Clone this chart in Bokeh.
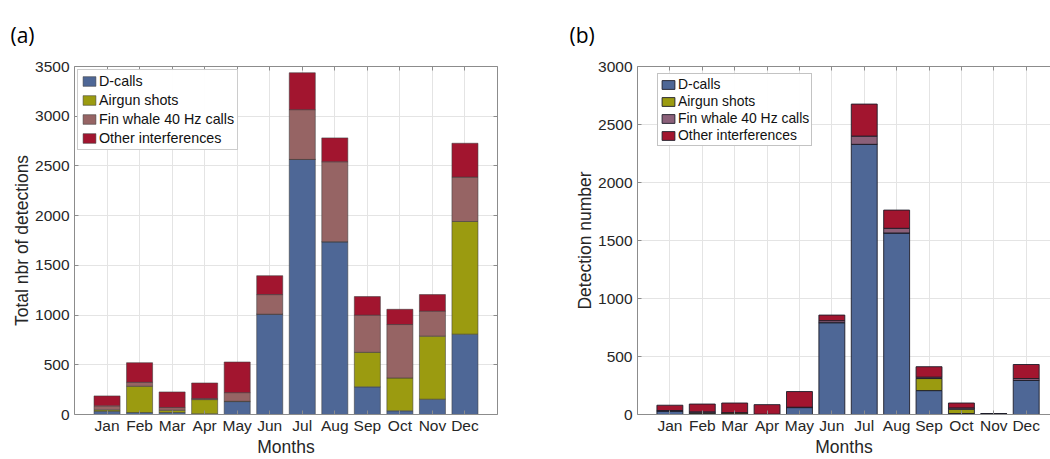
from bokeh.plotting import figure
from bokeh.models import FixedTicker, LinearAxis, ColumnDataSource, Range1d, Title
from bokeh.layouts import row
from bokeh.embed import file_html
from bokeh.resources import INLINE

months = ["Jan", "Feb", "Mar", "Apr", "May", "Jun", "Jul", "Aug", "Sep", "Oct", "Nov", "Dec"]
series_names = ["D-calls", "Airgun shots", "Fin whale 40 Hz calls", "Other interferences"]

# Panel (a): total number of detections
dcalls_a = [33, 20, 20, 7, 130, 1009, 2565, 1737, 278, 37, 154, 808]
airgun_a = [14, 264, 23, 143, 3, 0, 0, 0, 347, 330, 634, 1133]
fin_a = [40, 40, 27, 10, 87, 197, 501, 805, 374, 538, 251, 447]
other_a = [100, 197, 157, 157, 308, 190, 371, 240, 187, 153, 167, 340]

# Panel (b): detection number
dcalls_b = [31, 6, 4, 1, 60, 792, 2329, 1565, 206, 8, 6, 293]
airgun_b = [0, 8, 10, 1, 0, 0, 0, 0, 104, 38, 0, 0]
fin_b = [3, 9, 2, 1, 3, 17, 71, 40, 12, 11, 0, 17]
other_b = [46, 67, 83, 82, 135, 48, 276, 157, 90, 42, 0, 121]

yticks_a = [0, 500, 1000, 1500, 2000, 2500, 3000, 3500]
yticks_b = [0, 500, 1000, 1500, 2000, 2500, 3000]

colors_a = ["#4e6796", "#9b9b10", "#966464", "#a2152f"]
colors_b = ["#4e6796", "#9b9b10", "#8b6079", "#a2152f"]

xpos = list(range(1, 13))
FONT = "Liberation Sans"
TXT = "#262626"
AX = "#8c8c8c"


def style_axes(p, xt, yt, with_right):
    for ax in p.xaxis + p.yaxis:
        ax.axis_line_color = AX
        ax.major_tick_line_color = AX
        ax.major_tick_in = 4
        ax.major_tick_out = 0
        ax.minor_tick_line_color = None
        ax.major_label_text_font = FONT
        ax.major_label_text_font_size = "15.5px"
        ax.major_label_text_color = TXT
        ax.axis_label_text_font = FONT
        ax.axis_label_text_font_size = "17.5px"
        ax.axis_label_text_font_style = "normal"
        ax.axis_label_text_color = TXT
    p.xaxis.ticker = FixedTicker(ticks=xt)
    p.xaxis.major_label_overrides = {i: m for i, m in zip(xt, months)}
    p.xaxis.major_label_standoff = 2
    p.xaxis.axis_label_standoff = 0
    p.yaxis.ticker = FixedTicker(ticks=yt)
    p.yaxis.major_label_standoff = 5
    p.yaxis.axis_label_standoff = 0
    p.xgrid.ticker = FixedTicker(ticks=xt)
    p.ygrid.ticker = FixedTicker(ticks=yt)
    p.xgrid.grid_line_color = "#e4e4e4"
    p.ygrid.grid_line_color = "#e4e4e4"
    top = LinearAxis(ticker=FixedTicker(ticks=xt), major_label_text_font_size="0px",
                     major_label_text_color=None,
                     major_tick_in=4, major_tick_out=0, minor_tick_line_color=None,
                     axis_line_color=AX, major_tick_line_color=AX, major_label_standoff=0)
    p.add_layout(top, "above")
    if with_right:
        right = LinearAxis(ticker=FixedTicker(ticks=yt), major_label_text_font_size="0px",
                           major_label_text_color=None,
                           major_tick_in=4, major_tick_out=0, minor_tick_line_color=None,
                           axis_line_color=AX, major_tick_line_color=AX, major_label_standoff=0)
        p.add_layout(right, "right")


def make_panel(width, height, xr, yr, mb, data, colors, edge, edge_alpha, ylabel, yt,
               with_right, letter, letter_offset):
    p = figure(width=width, height=height, x_range=Range1d(*xr), y_range=Range1d(*yr),
               output_backend="svg", toolbar_location=None,
               min_border_left=mb[0], min_border_right=mb[1],
               min_border_top=mb[2], min_border_bottom=mb[3])
    p.outline_line_color = None
    p.title = Title(text=letter, align="left", offset=letter_offset, standoff=36,
                    text_font="Open Sans", text_font_size="21px", text_font_style="normal",
                    text_color="#000000")
    src = ColumnDataSource(dict(x=xpos, d=data[0], a=data[1], f=data[2], o=data[3]))
    p.vbar_stack(["d", "a", "f", "o"], x="x", width=0.8, source=src,
                 fill_color=colors, line_color=edge, line_alpha=edge_alpha, line_width=1,
                 legend_label=series_names)
    p.yaxis.axis_label = ylabel
    p.xaxis.axis_label = "Months"
    style_axes(p, xpos, yt, with_right)
    return p


# Left panel (a)
p1 = make_panel(521, 459, (0, 13), (0, 3500), (74, 24, 64, 44),
                [dcalls_a, airgun_a, fin_a, other_a], colors_a, "#3a3a3a", 0.55,
                "Total nbr of detections", yticks_a, True, "(a)", -64)
lg = p1.legend[0]
lg.location = "top_left"
lg.label_text_font = FONT
lg.label_text_font_size = "14.3px"
lg.label_text_color = "#111111"
lg.glyph_width = 16
lg.glyph_height = 12
lg.label_height = 14
lg.label_standoff = 2
lg.spacing = 3
lg.padding = 3
lg.margin = 3
lg.border_line_color = "#999999"
lg.border_line_width = 1

# Right panel (b)
p2 = make_panel(529, 459, (0, 12.75), (0, 3000), (116, 0, 64, 44),
                [dcalls_b, airgun_b, fin_b, other_b], colors_b, "#1e1e2a", 0.9,
                "Detection number", yticks_b, False, "(b)", -68)
lg2 = p2.legend[0]
lg2.location = (20, 268)
lg2.label_text_font = FONT
lg2.label_text_font_size = "13.9px"
lg2.label_text_color = "#111111"
lg2.glyph_width = 16
lg2.glyph_height = 11
lg2.label_height = 13
lg2.label_standoff = 2
lg2.spacing = 1
lg2.padding = 2
lg2.margin = 0
lg2.border_line_color = "#888888"
lg2.border_line_width = 1

layout = row(p1, p2)
open("out.html", "w").write(file_html(layout, INLINE))
